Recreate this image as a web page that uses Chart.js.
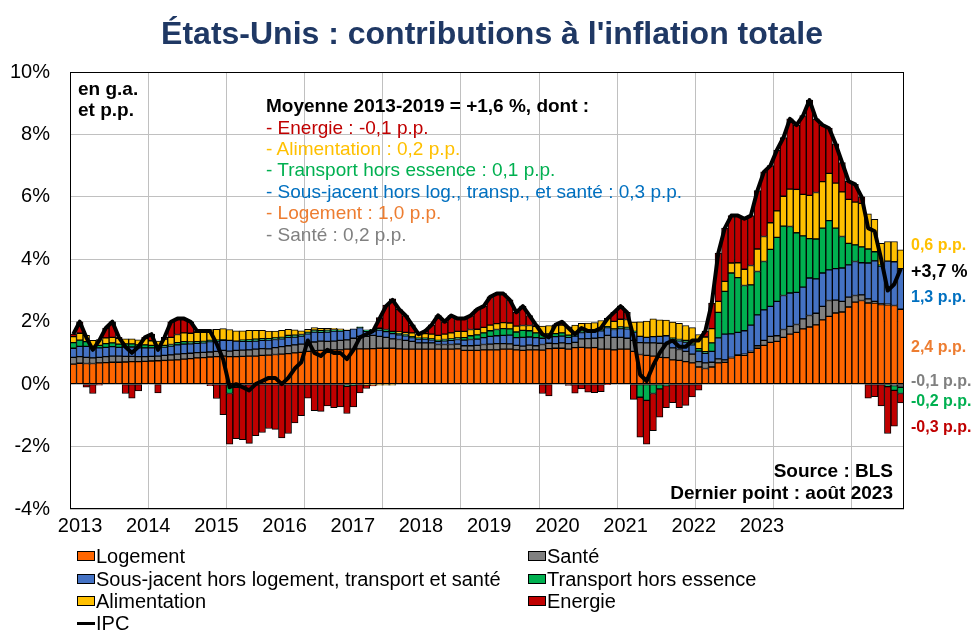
<!DOCTYPE html>
<html lang="fr">
<head>
<meta charset="utf-8">
<title>États-Unis : contributions à l'inflation totale</title>
<script src="https://cdn.jsdelivr.net/npm/chart.js@4.4.0/dist/chart.umd.min.js"></script>
<style>
  body { margin: 0; background: #fff; font-family: "Liberation Sans", Arial, sans-serif; }
  #wrap { position: relative; width: 979px; height: 638px; overflow: hidden; }
  #chart { position: absolute; left: 0; top: 0; }
  .t { position: absolute; white-space: nowrap; line-height: 1.2; }
  .b { font-weight: bold; }
  .sw { position: absolute; box-sizing: border-box; border: 1px solid #000; }
</style>
</head>
<body>
<div id="wrap">
  <canvas id="chart" width="979" height="638"></canvas>
</div>
<script>
// mois de janvier 2013 à août 2023
const startYear = 2013;
const nMonths = 128;
const months = [];
for (let i = 0; i < nMonths; i++) {
  months.push(startYear + Math.floor(i / 12) + '-' + String(i % 12 + 1).padStart(2, '0'));
}
const yearTicks = [2013, 2014, 2015, 2016, 2017, 2018, 2019, 2020, 2021, 2022, 2023];

// contributions en points de pourcentage
const logement = [
  0.64, 0.67, 0.66, 0.66, 0.68, 0.69, 0.70, 0.70, 0.71, 0.72, 0.72, 0.73,
  0.74, 0.75, 0.76, 0.77, 0.78, 0.80, 0.82, 0.84, 0.85, 0.87, 0.88, 0.90,
  0.88, 0.88, 0.89, 0.90, 0.90, 0.92, 0.93, 0.95, 0.96, 0.98, 1.00, 1.02,
  1.05, 1.07, 1.08, 1.09, 1.10, 1.10, 1.12, 1.12, 1.13, 1.13, 1.14, 1.15,
  1.15, 1.15, 1.13, 1.12, 1.12, 1.12, 1.12, 1.12, 1.12, 1.12, 1.12, 1.13,
  1.08, 1.08, 1.08, 1.10, 1.10, 1.10, 1.12, 1.12, 1.10, 1.08, 1.10, 1.10,
  1.09, 1.14, 1.15, 1.15, 1.12, 1.17, 1.18, 1.16, 1.17, 1.12, 1.12, 1.10,
  1.12, 1.12, 1.05, 0.95, 0.92, 0.90, 0.86, 0.85, 0.78, 0.76, 0.72, 0.68,
  0.55, 0.50, 0.55, 0.68, 0.70, 0.84, 0.92, 0.92, 1.02, 1.15, 1.24, 1.34,
  1.37, 1.50, 1.60, 1.66, 1.77, 1.83, 1.90, 2.06, 2.17, 2.28, 2.31, 2.47,
  2.63, 2.68, 2.60, 2.60, 2.55, 2.54, 2.52, 2.40
];
const sante = [
  0.22, 0.21, 0.20, 0.18, 0.18, 0.19, 0.20, 0.20, 0.18, 0.17, 0.16, 0.15,
  0.15, 0.15, 0.16, 0.17, 0.18, 0.18, 0.17, 0.17, 0.17, 0.16, 0.17, 0.18,
  0.18, 0.20, 0.20, 0.20, 0.22, 0.22, 0.20, 0.22, 0.24, 0.25, 0.26, 0.26,
  0.26, 0.28, 0.30, 0.28, 0.28, 0.30, 0.30, 0.35, 0.40, 0.40, 0.42, 0.38,
  0.35, 0.30, 0.30, 0.28, 0.25, 0.20, 0.20, 0.20, 0.15, 0.15, 0.15, 0.15,
  0.15, 0.15, 0.16, 0.17, 0.18, 0.20, 0.18, 0.17, 0.14, 0.14, 0.15, 0.13,
  0.18, 0.17, 0.15, 0.17, 0.18, 0.17, 0.27, 0.30, 0.30, 0.37, 0.44, 0.40,
  0.38, 0.35, 0.35, 0.38, 0.40, 0.42, 0.45, 0.45, 0.38, 0.35, 0.33, 0.28,
  0.17, 0.18, 0.15, 0.13, 0.08, 0.02, 0.02, 0.04, 0.03, 0.08, 0.16, 0.19,
  0.18, 0.25, 0.25, 0.25, 0.32, 0.37, 0.37, 0.43, 0.51, 0.41, 0.34, 0.32,
  0.21, 0.18, 0.13, 0.05, 0.03, 0.02, -0.05, -0.10
];
const sousJacent = [
  0.29, 0.33, 0.35, 0.30, 0.30, 0.30, 0.30, 0.28, 0.30, 0.30, 0.28, 0.28,
  0.27, 0.28, 0.27, 0.28, 0.30, 0.30, 0.30, 0.30, 0.30, 0.33, 0.33, 0.32,
  0.34, 0.30, 0.28, 0.27, 0.26, 0.26, 0.28, 0.26, 0.25, 0.27, 0.25, 0.26,
  0.30, 0.32, 0.28, 0.30, 0.32, 0.30, 0.30, 0.30, 0.28, 0.16, 0.14, 0.20,
  0.18, 0.17, 0.15, 0.15, 0.12, 0.12, 0.12, 0.10, 0.10, 0.12, 0.13, 0.15,
  0.18, 0.20, 0.20, 0.22, 0.25, 0.25, 0.26, 0.28, 0.25, 0.28, 0.26, 0.26,
  0.20, 0.20, 0.22, 0.22, 0.20, 0.20, 0.20, 0.22, 0.22, 0.22, 0.25, 0.25,
  0.28, 0.30, 0.27, 0.20, 0.18, 0.20, 0.22, 0.25, 0.28, 0.28, 0.30, 0.30,
  0.34, 0.31, 0.35, 0.67, 0.82, 0.75, 0.72, 0.75, 0.84, 0.99, 0.98, 0.96,
  1.10, 1.09, 1.07, 1.03, 1.02, 1.20, 1.10, 1.07, 0.98, 1.01, 1.07, 1.03,
  1.09, 1.03, 1.15, 1.30, 1.20, 1.38, 1.40, 1.30
];
const transport = [
  0.18, 0.20, 0.15, 0.07, 0.08, 0.12, 0.12, 0.10, 0.10, 0.10, 0.10, 0.10,
  0.08, 0.05, 0.05, 0.05, 0.07, 0.08, 0.06, 0.05, 0.05, 0.04, 0.03, 0.02,
  -0.30, -0.10, 0.04, 0.05, 0.06, 0.06, 0.05, 0.05, 0.05, 0.06, 0.06, 0.05,
  0.05, 0.06, 0.05, 0.06, 0.05, 0.04, -0.07, -0.03, 0.03, 0.05, 0.06, 0.06,
  0.07, 0.07, 0.05, 0.04, 0.03, 0.03, 0.03, 0.03, 0.03, 0.04, 0.05, 0.05,
  0.08, 0.12, 0.14, 0.15, 0.18, 0.20, 0.22, 0.20, 0.18, 0.22, 0.20, 0.15,
  0.12, 0.10, 0.10, 0.10, 0.07, 0.06, 0.05, 0.05, 0.04, 0.05, 0.03, 0.02,
  0.05, 0.05, 0.02, -0.42, -0.52, -0.30, -0.15, -0.05, 0.03, 0.04, 0.05, 0.05,
  0.08, 0.05, 0.27, 0.82, 1.37, 1.95, 1.75, 1.45, 1.29, 1.39, 1.55, 1.83,
  2.05, 2.22, 2.13, 1.91, 1.64, 1.26, 1.28, 1.44, 1.58, 1.30, 1.01, 0.69,
  0.53, 0.51, 0.45, 0.29, 0.03, -0.08, -0.15, -0.20
];
const alimentation = [
  0.19, 0.22, 0.20, 0.19, 0.19, 0.18, 0.18, 0.19, 0.16, 0.16, 0.16, 0.20,
  0.15, 0.15, 0.20, 0.23, 0.26, 0.28, 0.28, 0.30, 0.30, 0.35, 0.35, 0.36,
  0.35, 0.33, 0.30, 0.30, 0.28, 0.26, 0.24, 0.22, 0.22, 0.20, 0.17, 0.12,
  0.10, 0.08, 0.08, 0.06, 0.04, 0.03, 0.02, 0.00, 0.00, -0.03, -0.03, -0.03,
  -0.03, -0.03, 0.04, 0.07, 0.12, 0.12, 0.15, 0.15, 0.16, 0.17, 0.19, 0.21,
  0.20, 0.20, 0.18, 0.18, 0.18, 0.19, 0.19, 0.19, 0.19, 0.16, 0.17, 0.21,
  0.27, 0.27, 0.27, 0.25, 0.27, 0.29, 0.25, 0.23, 0.24, 0.28, 0.27, 0.24,
  0.25, 0.25, 0.30, 0.47, 0.52, 0.57, 0.53, 0.50, 0.52, 0.52, 0.48, 0.50,
  0.45, 0.47, 0.46, 0.35, 0.32, 0.32, 0.48, 0.52, 0.62, 0.72, 0.80, 0.85,
  0.85, 0.96, 1.20, 1.39, 1.33, 1.39, 1.49, 1.49, 1.51, 1.44, 1.43, 1.41,
  1.37, 1.39, 1.13, 1.04, 0.70, 0.63, 0.65, 0.60
];
const energie = [
  0.08, 0.37, -0.10, -0.30, -0.03, 0.32, 0.50, 0.03, -0.30, -0.45, -0.22, 0.04,
  0.21, -0.28, 0.06, 0.50, 0.51, 0.46, 0.37, 0.04, 0.03, -0.05, -0.46, -0.98,
  -1.62, -1.65, -1.78, -1.90, -1.65, -1.55, -1.42, -1.45, -1.72, -1.58, -1.24, -1.01,
  -0.45, -0.85, -0.87, -0.70, -0.75, -0.73, -0.87, -0.70, -0.28, -0.11, -0.03, 0.34,
  0.78, 1.04, 0.73, 0.54, 0.26, 0.01, 0.08, 0.30, 0.64, 0.40, 0.56, 0.41,
  0.41, 0.45, 0.64, 0.68, 0.91, 0.96, 0.93, 0.74, 0.44, 0.62, 0.32, 0.05,
  -0.30, -0.38, 0.01, 0.11, -0.04, -0.29, -0.15, -0.26, -0.27, -0.24, -0.01, 0.29,
  0.42, 0.23, -0.49, -1.28, -1.40, -1.19, -0.91, -0.70, -0.59, -0.75, -0.68, -0.41,
  -0.19, 0.19, 0.82, 1.55, 1.71, 1.52, 1.51, 1.62, 1.60, 1.87, 2.07, 1.83,
  1.95, 1.88, 2.25, 2.06, 2.52, 3.05, 2.36, 1.81, 1.45, 1.26, 0.94, 0.58,
  0.57, 0.21, -0.45, -0.40, -0.70, -1.50, -1.15, -0.30
];
// IPC, glissement annuel en %
const ipc = [
  1.6, 2.0, 1.5, 1.1, 1.4, 1.8, 2.0, 1.5, 1.2, 1.0, 1.2, 1.5,
  1.6, 1.1, 1.5, 2.0, 2.1, 2.1, 2.0, 1.7, 1.7, 1.7, 1.3, 0.8,
  -0.1, 0.0, -0.1, -0.2, 0.0, 0.1, 0.2, 0.2, 0.0, 0.2, 0.5, 0.7,
  1.4, 1.0, 0.9, 1.1, 1.0, 1.0, 0.8, 1.1, 1.5, 1.6, 1.7, 2.1,
  2.5, 2.7, 2.4, 2.2, 1.9, 1.6, 1.7, 1.9, 2.2, 2.0, 2.2, 2.1,
  2.1, 2.2, 2.4, 2.5, 2.8, 2.9, 2.9, 2.7, 2.3, 2.5, 2.2, 1.9,
  1.6, 1.5, 1.9, 2.0, 1.8, 1.6, 1.8, 1.7, 1.7, 1.8, 2.1, 2.3,
  2.5, 2.3, 1.5, 0.3, 0.1, 0.6, 1.0, 1.3, 1.4, 1.2, 1.2, 1.4,
  1.4, 1.7, 2.6, 4.2, 5.0, 5.4, 5.4, 5.3, 5.4, 6.2, 6.8, 7.0,
  7.5, 7.9, 8.5, 8.3, 8.6, 9.1, 8.5, 8.3, 8.2, 7.7, 7.1, 6.5,
  6.4, 6.0, 5.0, 4.9, 4.0, 3.0, 3.2, 3.7
];

const series = [
  { label: 'Logement', data: logement, color: '#FF6600' },
  { label: 'Santé', data: sante, color: '#808080' },
  { label: 'Sous-jacent hors logement, transport et santé', data: sousJacent, color: '#4472C4' },
  { label: 'Transport hors essence', data: transport, color: '#00B050' },
  { label: 'Alimentation', data: alimentation, color: '#FFC000' },
  { label: 'Energie', data: energie, color: '#C00000' }
];

Chart.defaults.font.family = "'Liberation Sans', Arial, sans-serif";
Chart.defaults.color = '#000';

const datasets = series.map(s => ({
  type: 'bar',
  label: s.label,
  data: s.data,
  backgroundColor: s.color,
  borderColor: '#000',
  borderWidth: 1,
  borderSkipped: false,
  barPercentage: 1,
  categoryPercentage: 1,
  stack: 'contrib',
  order: 2
}));
datasets.push({
  type: 'line',
  label: 'IPC',
  data: ipc,
  borderColor: '#000',
  borderWidth: 4,
  pointRadius: 0,
  tension: 0,
  borderJoinStyle: 'round',
  stack: 'ipc',
  order: 1
});

const frame = {
  id: 'frame',
  afterDraw(chart) {
    const a = chart.chartArea, ctx = chart.ctx;
    ctx.save();
    ctx.strokeStyle = '#000';
    ctx.lineWidth = 1;
    ctx.strokeRect(a.left + 0.5, a.top + 0.5, a.right - a.left - 1, a.bottom - a.top - 1);
    ctx.restore();
  }
};

new Chart(document.getElementById('chart'), {
  data: { labels: months, datasets },
  options: {
    responsive: false,
    animation: false,
    layout: { padding: { left: 0, top: 72, right: 75, bottom: 0 } },
    plugins: { legend: { display: false }, tooltip: { enabled: false } },
    scales: {
      x: {
        type: 'category',
        stacked: true,
        offset: true,
        grid: {
          offset: true,
          drawTicks: false,
          color: c => (c.index % 12 === 0 && c.index > 0 && c.index < nMonths) ? '#c0c0c0' : 'rgba(0,0,0,0)'
        },
        border: { display: false },
        ticks: { display: false, autoSkip: false },
        afterFit: s => { s.height = 0; }
      },
      years: {
        type: 'linear',
        axis: 'x',
        position: 'bottom',
        min: 2012.853,
        max: 2025.083,
        grid: { display: false, drawTicks: false },
        border: { display: false },
        ticks: { font: { size: 20 }, padding: 5, callback: v => String(v), maxRotation: 0 },
        afterBuildTicks: s => { s.ticks = yearTicks.map(v => ({ value: v })); },
        afterFit: s => { s.height = 129; }
      },
      y: {
        stacked: true,
        min: -4,
        max: 10,
        ticks: { stepSize: 2, font: { size: 20 }, padding: 20, callback: v => v + '%' },
        grid: { color: '#c0c0c0', drawTicks: false },
        border: { display: false },
        afterFit: s => { s.width = 70; }
      }
    }
  },
  plugins: [frame]
});

// textes
const wrap = document.getElementById('wrap');
function addText(txt, x, cy, size, color, opts = {}) {
  const d = document.createElement('div');
  d.className = 't' + (opts.bold ? ' b' : '');
  d.textContent = txt;
  d.style.fontSize = size + 'px';
  d.style.color = color;
  d.style.top = (cy - size * 0.6) + 'px';
  if (opts.align === 'right') d.style.right = (979 - x) + 'px';
  else if (opts.align === 'center') { d.style.left = x + 'px'; d.style.transform = 'translateX(-50%)'; }
  else d.style.left = x + 'px';
  wrap.appendChild(d);
}

addText("États-Unis : contributions à l'inflation totale", 492, 33, 32, '#1F3864', { bold: true, align: 'center' });
addText('en g.a.', 78, 89, 19, '#000', { bold: true });
addText('et p.p.', 78, 110, 19, '#000', { bold: true });

addText('Moyenne 2013-2019 = +1,6 %, dont :', 266, 106, 19, '#000', { bold: true });
const avgLines = [
  ['- Energie : -0,1 p.p.', '#C00000'],
  ['- Alimentation : 0,2 p.p.', '#FFC000'],
  ['- Transport hors essence : 0,1 p.p.', '#00B050'],
  ['- Sous-jacent hors log., transp., et santé : 0,3 p.p.', '#0070C0'],
  ['- Logement : 1,0 p.p.', '#ED7D31'],
  ['- Santé : 0,2 p.p.', '#808080']
];
avgLines.forEach((l, i) => addText(l[0], 266, 128 + i * 21.4, 19, l[1]));

addText('Source : BLS', 893, 471, 19, '#000', { bold: true, align: 'right' });
addText('Dernier point : août 2023', 893, 493, 19, '#000', { bold: true, align: 'right' });

const endLabels = [
  ['0,6 p.p.', 245, '#FFC000', 16],
  ['+3,7 %', 272, '#000', 18],
  ['1,3 p.p.', 297, '#0070C0', 16],
  ['2,4 p.p.', 347, '#ED7D31', 16],
  ['-0,1 p.p.', 381, '#808080', 16],
  ['-0,2 p.p.', 401, '#00B050', 16],
  ['-0,3 p.p.', 427, '#C00000', 16]
];
endLabels.forEach(l => addText(l[0], 911, l[1], l[3], l[2], { bold: true }));

// légende
const legendItems = [
  [series[0], 77, 556], [series[1], 528, 556],
  [series[2], 77, 578.5], [series[3], 528, 578.5],
  [series[4], 77, 601], [series[5], 528, 601],
  [{ label: 'IPC', color: '#000', line: true }, 77, 623]
];
legendItems.forEach(([s, x, cy]) => {
  const sw = document.createElement('div');
  sw.className = 'sw';
  if (s.line) {
    sw.style.border = 'none';
    sw.style.background = '#000';
    sw.style.left = x + 'px'; sw.style.top = (cy - 1.5) + 'px';
    sw.style.width = '18px'; sw.style.height = '3px';
  } else {
    sw.style.background = s.color;
    sw.style.left = x + 'px'; sw.style.top = (cy - 5) + 'px';
    sw.style.width = '18px'; sw.style.height = '10px';
  }
  wrap.appendChild(sw);
  addText(s.label, x + 19, cy, 20, '#000');
});
</script>
</body>
</html>
